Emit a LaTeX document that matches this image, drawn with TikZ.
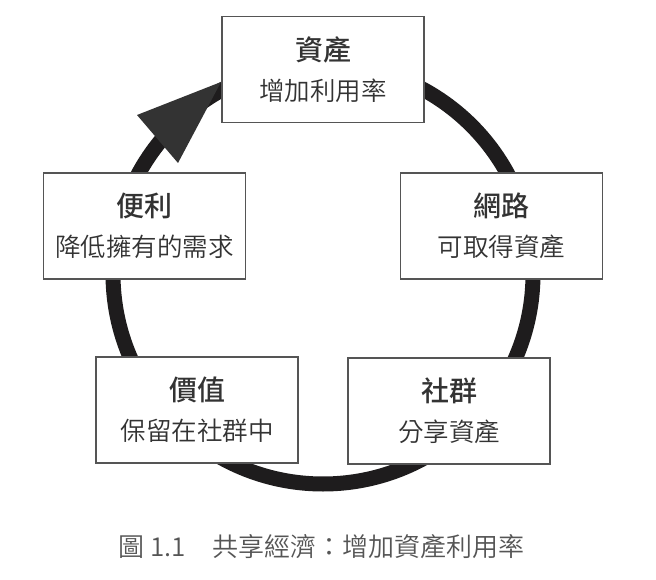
\documentclass[tikz,border=0pt]{standalone}
\usepackage{fontspec}
\setmainfont{Noto Sans CJK TC}
\newfontfamily\medfont{Noto Sans CJK TC}[UprightFont=* Medium]
\newfontfamily\lightfont{Noto Sans CJK TC}[UprightFont=* DemiLight]
\definecolor{ringc}{HTML}{1E1C1D}
\definecolor{headc}{HTML}{333333}
\definecolor{boxc}{HTML}{555555}
\definecolor{txtc}{HTML}{333333}
\definecolor{capc}{HTML}{555555}
\tikzset{
  stagebox/.style={draw=boxc, line width=1.4pt, fill=white, minimum width=202pt, minimum height=106pt, inner sep=0pt},
  titletext/.style={font=\fontsize{28}{30}\selectfont\medfont, text=txtc, inner sep=0pt},
  subtext/.style={font=\fontsize{25.5}{28}\selectfont\lightfont, text=txtc, inner sep=0pt},
  ring/.style={draw=ringc, line width=15pt},
}
\begin{document}
\begin{tikzpicture}[x=1pt,y=-1pt]
\useasboundingbox (0,0) rectangle (656,580);
\coordinate (ctr) at (323,274);
\draw[ring] (ctr) circle[radius=210];
% arrowhead
\fill[headc] (221,82) -- (137,115) -- (178,163) -- cycle;
% boxes
\node[stagebox] (asset) at (323,69.5) {};
\node[stagebox] (conv) at (144.5,226) {};
\node[stagebox] (net) at (501.5,226) {};
\node[stagebox] (value) at (197,410) {};
\node[stagebox] (comm) at (449,411) {};
\foreach \b/\t/\s in {asset/資產/增加利用率, conv/便利/降低擁有的需求, net/網路/可取得資產, value/價值/保留在社群中, comm/社群/分享資產}{
  \node[titletext] (\b-t) at ([yshift=20pt]\b.center) {\t};
  \node[subtext] (\b-s) at ([yshift=-21pt]\b.center) {\s};
}
\node[font=\fontsize{26}{28}\selectfont\lightfont, text=capc, inner sep=0pt] (cap) at (321.5,547) {圖 1.1\hspace{1em}共享經濟：增加資產利用率};
\end{tikzpicture}
\end{document}
